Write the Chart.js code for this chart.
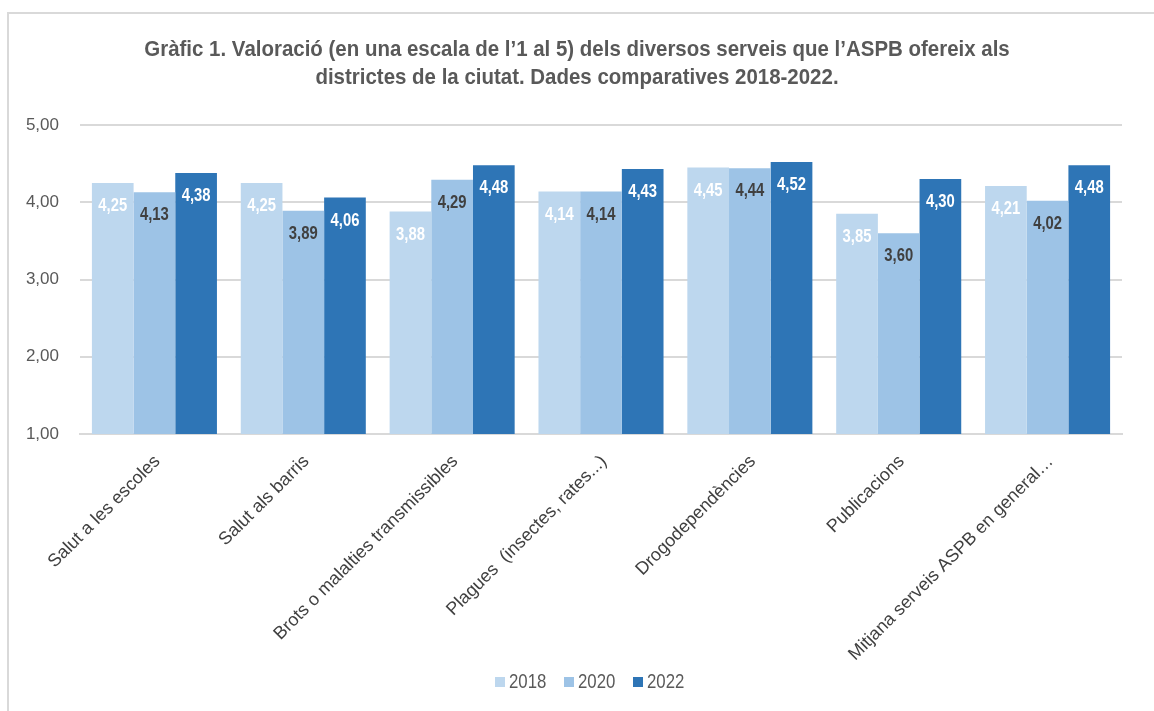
<!DOCTYPE html>
<html>
<head>
<meta charset="utf-8">
<script src="https://cdn.jsdelivr.net/npm/chart.js@4.4.1/dist/chart.umd.min.js"></script>
<style>
  html, body { margin: 0; padding: 0; background: #ffffff; }
  #wrap { position: relative; width: 1154px; height: 711px; }
</style>
</head>
<body>
<div id="wrap"><canvas id="c" width="1154" height="711"></canvas></div>
<script>
const categories = [
  'Salut a les escoles',
  'Salut als barris',
  'Brots o malalties transmissibles',
  'Plagues  (insectes, rates...)',
  'Drogodependències',
  'Publicacions',
  'Mitjana serveis ASPB en general…'
];
const seriesNames = ['2018', '2020', '2022'];
const values2018 = [4.25, 4.25, 3.88, 4.14, 4.45, 3.85, 4.21];
const values2020 = [4.13, 3.89, 4.29, 4.14, 4.44, 3.60, 4.02];
const values2022 = [4.38, 4.06, 4.48, 4.43, 4.52, 4.30, 4.48];
const yTicks = [1, 2, 3, 4, 5];
const titleLines = [
  'Gràfic 1. Valoració (en una escala de l’1 al 5) dels diversos serveis que l’ASPB ofereix als',
  'districtes de la ciutat. Dades comparatives 2018-2022.'
];

const FONT = '"Liberation Sans", Arial, sans-serif';
const colors = ['#BDD7EE', '#9DC3E6', '#2E75B6'];
const labelColors = ['#FFFFFF', '#404040', '#FFFFFF'];

const fmt = v => v.toFixed(2).replace('.', ',');

function drawScaledText(ctx, text, x, y, sx, align) {
  ctx.save();
  ctx.translate(x, y);
  ctx.scale(sx, 1);
  ctx.textAlign = align;
  ctx.fillText(text, 0, 0);
  ctx.restore();
}

const frame = {
  id: 'frame',
  beforeDraw(chart) {
    const ctx = chart.ctx;
    ctx.save();
    ctx.strokeStyle = '#D9D9D9';
    ctx.lineWidth = 2;
    ctx.strokeRect(8, 13, 1200, 800);
    ctx.restore();
  },
  afterDraw(chart) {
    const ctx = chart.ctx;
    // title
    ctx.save();
    ctx.fillStyle = '#595959';
    ctx.font = 'bold 22px ' + FONT;
    ctx.textBaseline = 'middle';
    titleLines.forEach((line, i) => drawScaledText(ctx, line, 577, 50 + i * 28, 0.93, 'center'));
    ctx.restore();
    // legend
    ctx.save();
    ctx.font = '21px ' + FONT;
    ctx.textBaseline = 'middle';
    const startX = 495, step = 69, cy = 682;
    chart.data.datasets.forEach((ds, i) => {
      const x = startX + i * step;
      ctx.fillStyle = ds.backgroundColor;
      ctx.fillRect(x, cy - 5, 10, 10);
      ctx.fillStyle = '#595959';
      drawScaledText(ctx, ds.label, x + 14, cy, 0.8, 'left');
    });
    ctx.restore();
  }
};

const dataLabels = {
  id: 'dataLabels',
  afterDatasetsDraw(chart) {
    const ctx = chart.ctx;
    ctx.save();
    ctx.font = 'bold 19px ' + FONT;
    ctx.textBaseline = 'middle';
    chart.data.datasets.forEach((ds, i) => {
      const meta = chart.getDatasetMeta(i);
      meta.data.forEach((bar, j) => {
        ctx.fillStyle = labelColors[i];
        drawScaledText(ctx, fmt(ds.data[j]), bar.x, bar.y + 23, 0.78, 'center');
      });
    });
    ctx.restore();
  }
};

new Chart(document.getElementById('c'), {
  type: 'bar',
  data: {
    labels: categories,
    datasets: [
      { label: seriesNames[0], data: values2018, backgroundColor: colors[0] },
      { label: seriesNames[1], data: values2020, backgroundColor: colors[1] },
      { label: seriesNames[2], data: values2022, backgroundColor: colors[2] }
    ]
  },
  options: {
    responsive: false,
    animation: false,
    devicePixelRatio: 1,
    layout: { padding: { left: 0, right: 32, top: 125, bottom: 37 } },
    datasets: { bar: { barPercentage: 1.0, categoryPercentage: 0.84, borderWidth: 0 } },
    plugins: {
      title: { display: false },
      legend: { display: false },
      tooltip: { enabled: false }
    },
    scales: {
      x: {
        grid: { display: false, drawTicks: false },
        border: { display: true, color: '#D9D9D9', width: 2 },
        ticks: {
          color: '#404040',
          font: { family: FONT, size: 18 },
          maxRotation: 45,
          minRotation: 45,
          autoSkip: false,
          padding: 17,
          labelOffset: 3
        },
        afterFit(scale) { scale.height = 240; }
      },
      y: {
        min: 1,
        max: 5,
        afterBuildTicks(scale) { scale.ticks = yTicks.map(v => ({ value: v })); },
        grid: { color: '#D9D9D9', lineWidth: 2, drawTicks: false },
        border: { display: false },
        ticks: {
          color: '#595959',
          font: { family: FONT, size: 17 },
          padding: 21,
          callback: v => fmt(v)
        },
        afterFit(scale) { scale.width = 80; }
      }
    }
  },
  plugins: [frame, dataLabels]
});
</script>
</body>
</html>
